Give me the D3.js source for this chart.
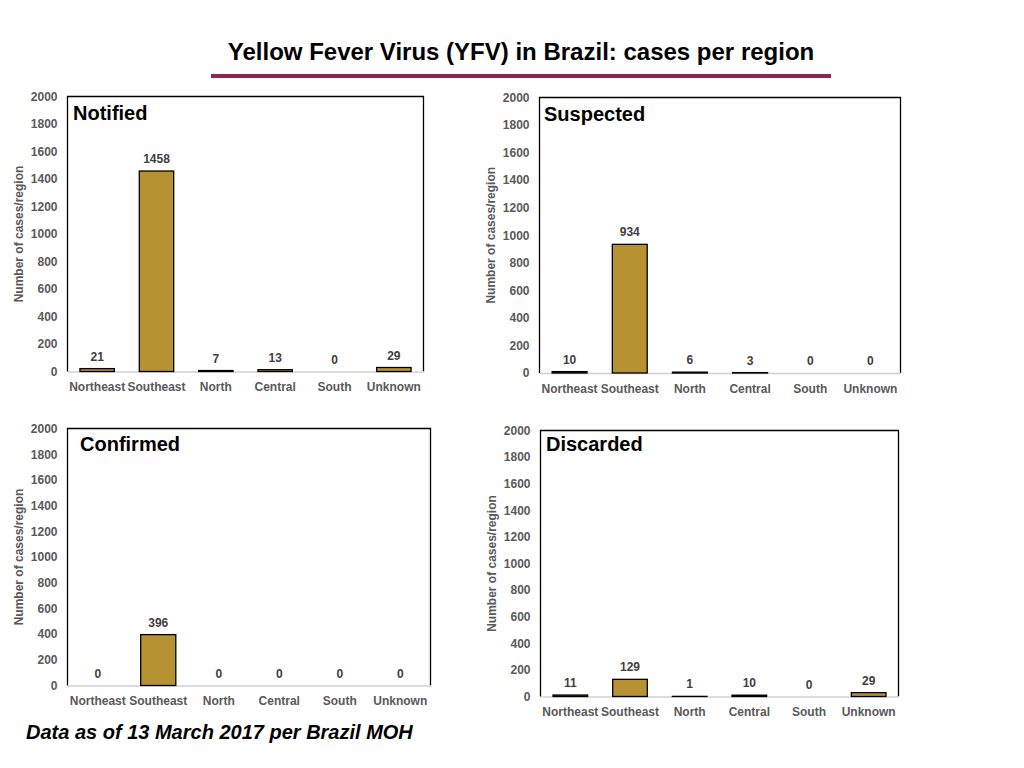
<!DOCTYPE html>
<html>
<head>
<meta charset="utf-8">
<script src="https://cdn.jsdelivr.net/npm/d3@7"></script>
<style>
  body { margin: 0; background: #fff; }
  svg { font-family: "Liberation Sans", Arial, sans-serif; }
</style>
</head>
<body>
<div id="chart"></div>
<script>
// Data
const regions = ["Northeast", "Southeast", "North", "Central", "South", "Unknown"];
const notified = [21, 1458, 7, 13, 0, 29];
const suspected = [10, 934, 6, 3, 0, 0];
const confirmed = [0, 396, 0, 0, 0, 0];
const discarded = [11, 129, 1, 10, 0, 29];
const yTicks = [0, 200, 400, 600, 800, 1000, 1200, 1400, 1600, 1800, 2000];

const svgWidth = 1024;
const svgHeight = 768;

let svg = d3.select("#chart")
  .append("svg")
  .attr("width", svgWidth)
  .attr("height", svgHeight);

// Main title + maroon rule
svg.append("text")
  .attr("x", 521)
  .attr("y", 60)
  .attr("text-anchor", "middle")
  .attr("font-size", 24)
  .attr("font-weight", "bold")
  .attr("fill", "#000")
  .text("Yellow Fever Virus (YFV) in Brazil: cases per region");

svg.append("line")
  .attr("x1", 211).attr("x2", 831)
  .attr("y1", 76).attr("y2", 76)
  .attr("stroke", "#8c2553")
  .attr("stroke-width", 4);

// one panel per status
function drawPanel(p) {
  let w = p.right - p.left;
  let h = p.bottom - p.top;

  let g = svg.append("g")
    .attr("transform", `translate(${p.left}, ${p.top})`);

  let x = d3.scaleBand()
    .domain(regions)
    .range([0, w])
    .paddingInner(0.42)
    .paddingOuter(0.21);

  let y = d3.scaleLinear()
    .domain([0, 2000])
    .range([h, 0]);

  // frame: black top/left/right
  g.append("path")
    .attr("d", `M0,${h}V0H${w}V${h}`)
    .attr("fill", "none")
    .attr("stroke", "#000")
    .attr("stroke-width", 1.3);

  // y axis tick labels
  let yAxis = g.append("g")
    .call(d3.axisLeft(y).tickValues(yTicks).tickFormat(d3.format("d"))
      .tickSize(0).tickPadding(10));
  yAxis.select(".domain").remove();
  yAxis.selectAll("text")
    .attr("font-family", "Liberation Sans, Arial, sans-serif")
    .attr("font-size", 12)
    .attr("font-weight", "bold")
    .attr("fill", "#595959");

  // x axis (light grey baseline)
  let xAxis = g.append("g")
    .attr("transform", `translate(0, ${h})`)
    .call(d3.axisBottom(x).tickSize(0).tickPadding(11));
  xAxis.select(".domain")
    .attr("stroke", "#d0d0d0")
    .attr("stroke-width", 1.3);
  xAxis.selectAll("text")
    .attr("font-family", "Liberation Sans, Arial, sans-serif")
    .attr("font-size", 12)
    .attr("font-weight", "bold")
    .attr("fill", "#595959");

  // y axis title
  g.append("text")
    .attr("transform", "rotate(-90)")
    .attr("x", -h / 2)
    .attr("y", p.yTitleX - p.left)
    .attr("text-anchor", "middle")
    .attr("dominant-baseline", "middle")
    .attr("font-size", 12)
    .attr("font-weight", "bold")
    .attr("fill", "#595959")
    .text("Number of cases/region");

  // bars
  g.append("g")
    .selectAll("rect")
    .data(p.values)
    .enter()
    .append("rect")
    .attr("x", (d, i) => x(regions[i]))
    .attr("y", d => y(d))
    .attr("width", x.bandwidth())
    .attr("height", d => h - y(d))
    .attr("fill", "#b79233")
    .attr("stroke", d => d > 0 ? "#000" : "none")
    .attr("stroke-width", 1.3);

  // value labels
  g.append("g")
    .selectAll("text")
    .data(p.values)
    .enter()
    .append("text")
    .attr("x", (d, i) => x(regions[i]) + x.bandwidth() / 2)
    .attr("y", d => y(d) - 8)
    .attr("text-anchor", "middle")
    .attr("font-size", 12)
    .attr("font-weight", "bold")
    .attr("fill", "#404040")
    .text(d => d);

  // panel title
  g.append("text")
    .attr("x", p.titleX - p.left)
    .attr("y", p.titleY - p.top)
    .attr("font-size", 20)
    .attr("font-weight", "bold")
    .attr("fill", "#000")
    .text(p.name);
}

drawPanel({ name: "Notified", values: notified,
  left: 67.5, top: 96.5, right: 423.5, bottom: 371.5,
  yTitleX: 20, titleX: 73, titleY: 120 });

drawPanel({ name: "Suspected", values: suspected,
  left: 539.5, top: 97.5, right: 900.5, bottom: 373,
  yTitleX: 492, titleX: 544, titleY: 121 });

drawPanel({ name: "Confirmed", values: confirmed,
  left: 67.5, top: 428.5, right: 430.5, bottom: 685.5,
  yTitleX: 20, titleX: 80, titleY: 451 });

drawPanel({ name: "Discarded", values: discarded,
  left: 540.5, top: 430.5, right: 898.5, bottom: 696.5,
  yTitleX: 493, titleX: 546, titleY: 451 });

// footnote
svg.append("text")
  .attr("x", 26)
  .attr("y", 739)
  .attr("font-size", 20)
  .attr("font-weight", "bold")
  .attr("font-style", "italic")
  .attr("fill", "#000")
  .text("Data as of 13 March 2017 per Brazil MOH");
</script>
</body>
</html>
